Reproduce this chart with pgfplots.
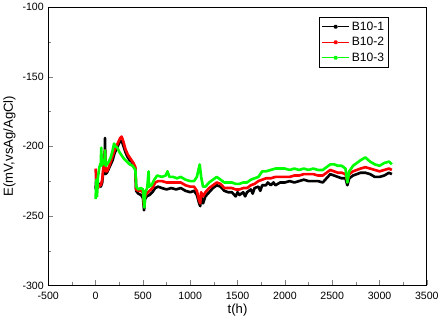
\documentclass[border=0pt]{standalone}
\usepackage{fontspec}
\setmainfont{Liberation Sans}
\usepackage{pgfplots}
\pgfplotsset{compat=1.18}
\begin{document}
\begin{tikzpicture}
\begin{axis}[
  scale only axis,
  width=374bp, height=275bp,
  xmin=-500, xmax=3500, ymin=-300, ymax=-100,
  xtick={-500,0,...,3500}, ytick={-300,-250,...,-100},
  minor x tick num=1, minor y tick num=1,
  tick align=inside,
  xtick pos=bottom, ytick pos=left,
  major tick length=5bp, minor tick length=3bp,
  /pgf/number format/assume math mode=true,
  /pgf/number format/set thousands separator={},
  ticklabel style={font=\fontsize{10.5}{11}\selectfont},
  xticklabel style={yshift=-3bp},
  yticklabel style={xshift=-1bp},
  xlabel={t(h)}, ylabel={E(mV,vsAg/AgCl)},
  label style={font=\fontsize{13}{14}\selectfont},
  xlabel style={yshift=2bp},
  ylabel style={yshift=0bp},
  axis line style={line width=0.8pt},
  legend style={at={(0.9,0.965)}, anchor=north east, font=\fontsize{12}{13}\selectfont, draw=black, line width=0.8pt, row sep=1.5pt, inner sep=2.5pt},
  legend cell align=left,
  legend image code/.code={\draw[#1, line width=0.8pt] (0cm,0cm) -- (0.4cm,0cm); \draw[#1, line width=0.8pt] (0.55cm,0cm) -- (0.95cm,0cm); \fill[#1] (0.475cm,0cm) circle (0.9pt);},
]
\addplot[black, line width=2.6pt, line join=round] coordinates {
(0,-231) (8,-222) (15,-230) (25,-229) (40,-227) (55,-229) (70,-226) (85,-215) (95,-212) (100,-194) (104,-220) (120,-219) (140,-216) (160,-213) (180,-210) (200,-205) (220,-202) (240,-199) (260,-196) (280,-197) (300,-201) (320,-205) (340,-208) (360,-210) (380,-211) (400,-213) (420,-216) (428,-232) (450,-234) (480,-235) (500,-237) (512,-246) (522,-238) (540,-236) (570,-235) (600,-233) (630,-230) (660,-229) (700,-230) (750,-231) (800,-230) (850,-231) (900,-230) (950,-232) (1000,-233) (1040,-232) (1070,-235) (1090,-240) (1105,-243) (1115,-236) (1135,-241) (1160,-236) (1200,-233) (1240,-230) (1280,-228) (1320,-229) (1360,-232) (1400,-233) (1440,-233) (1480,-236) (1500,-233) (1520,-235) (1560,-233) (1580,-236) (1600,-233) (1640,-231) (1660,-234) (1680,-230) (1720,-229) (1740,-232) (1760,-228) (1800,-228) (1820,-226) (1850,-228) (1880,-226) (1900,-228) (1950,-226) (2000,-226) (2050,-225) (2100,-226) (2150,-225) (2200,-224) (2250,-225) (2300,-225) (2350,-225) (2400,-226) (2440,-223) (2480,-220) (2520,-221) (2560,-222) (2600,-223) (2640,-223) (2660,-228) (2680,-223) (2720,-221) (2760,-220) (2800,-219) (2850,-219) (2900,-220) (2950,-222) (3000,-222) (3050,-221) (3100,-219) (3130,-220)
};
\addlegendentry{B10-1}
\addplot[red, line width=2.6pt, line join=round] coordinates {
(0,-216) (8,-226) (15,-230) (25,-230) (40,-228) (55,-228) (70,-224) (85,-213) (95,-212) (100,-203) (104,-218) (120,-218) (140,-215) (160,-211) (180,-207) (200,-203) (220,-200) (240,-197) (260,-194) (275,-193) (295,-197) (315,-202) (340,-206) (360,-208) (380,-210) (400,-212) (420,-215) (428,-231) (450,-232) (480,-232) (500,-233) (512,-243) (522,-236) (540,-234) (570,-232) (600,-230) (630,-226) (660,-225) (700,-225) (750,-226) (800,-226) (850,-226) (900,-226) (950,-228) (1000,-229) (1040,-229) (1070,-232) (1090,-238) (1105,-241) (1115,-233) (1135,-236) (1160,-233) (1200,-230) (1240,-228) (1280,-226) (1320,-227) (1360,-230) (1400,-230) (1440,-230) (1480,-231) (1520,-231) (1560,-230) (1600,-230) (1640,-228) (1680,-227) (1720,-225) (1760,-224) (1800,-223) (1850,-223) (1900,-222) (1950,-222) (2000,-222) (2050,-222) (2100,-221) (2150,-221) (2200,-220) (2250,-220) (2300,-220) (2350,-221) (2400,-221) (2440,-219) (2480,-217) (2520,-218) (2560,-219) (2600,-219) (2640,-220) (2660,-225) (2680,-220) (2720,-218) (2760,-217) (2800,-216) (2850,-215) (2900,-216) (2950,-217) (3000,-218) (3050,-217) (3100,-216) (3130,-217)
};
\addlegendentry{B10-2}
\addplot[green, line width=2.6pt, line join=round] coordinates {
(0,-238) (8,-224) (15,-236) (25,-222) (40,-215) (55,-212) (60,-201) (65,-214) (80,-210) (95,-213) (100,-203) (106,-214) (120,-213) (140,-211) (160,-208) (180,-203) (195,-198) (210,-200) (230,-201) (250,-204) (270,-206) (300,-209) (330,-211) (360,-213) (390,-214) (420,-217) (430,-229) (450,-231) (480,-230) (500,-231) (515,-244) (525,-233) (545,-230) (560,-218) (565,-229) (590,-228) (620,-224) (650,-221) (700,-222) (740,-221) (760,-218) (780,-222) (820,-222) (860,-223) (900,-222) (950,-224) (1000,-225) (1040,-225) (1070,-222) (1090,-216) (1100,-213) (1115,-222) (1135,-229) (1160,-229) (1200,-226) (1240,-224) (1280,-222) (1320,-224) (1360,-226) (1400,-226) (1440,-226) (1480,-227) (1520,-227) (1560,-226) (1600,-226) (1640,-224) (1680,-223) (1720,-222) (1760,-218) (1800,-218) (1850,-217) (1900,-216) (1950,-216) (2000,-216) (2050,-217) (2100,-216) (2150,-217) (2200,-216) (2250,-217) (2300,-216) (2350,-217) (2400,-217) (2440,-215) (2480,-213) (2520,-213) (2560,-214) (2600,-214) (2640,-216) (2660,-226) (2680,-218) (2720,-214) (2760,-212) (2800,-210) (2850,-208) (2900,-211) (2950,-213) (3000,-214) (3050,-212) (3100,-211) (3130,-213)
};
\addlegendentry{B10-3}
\end{axis}
\end{tikzpicture}
\end{document}
